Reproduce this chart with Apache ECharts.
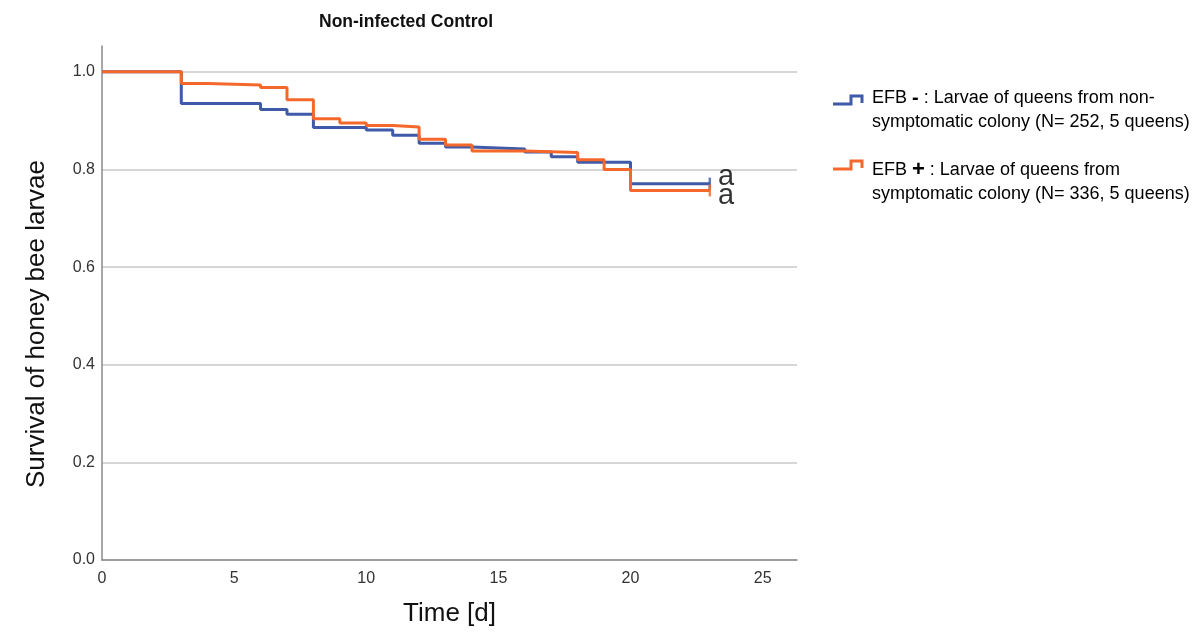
<!DOCTYPE html>
<html>
<head>
<meta charset="utf-8">
<script src="https://cdn.jsdelivr.net/npm/echarts@6/dist/echarts.min.js"></script>
<style>
  html, body { margin: 0; padding: 0; background: #fff; }
  #chart { width: 1200px; height: 633px; }
</style>
</head>
<body>
<div id="chart"></div>
<script>
// Kaplan-Meier steps (time in days, survival fraction)
const blueTimes = [0, 3, 6, 7, 8, 10, 11, 12, 13, 14, 16, 17, 18, 20, 23];
const blueSurv = [1.0, 0.935, 0.923, 0.913, 0.886, 0.881, 0.870, 0.854, 0.846, 0.842, 0.836, 0.826, 0.815, 0.771, 0.771];
const orangeTimes = [0, 3, 4, 6, 7, 8, 9, 10, 11, 12, 13, 14, 16, 18, 19, 20, 23];
const orangeSurv = [1.0, 0.976, 0.973, 0.968, 0.943, 0.904, 0.895, 0.890, 0.887, 0.862, 0.850, 0.838, 0.835, 0.820, 0.800, 0.757, 0.757];
const groupLetters = ['a', 'a'];
const seriesNames = ['EFB -', 'EFB +'];

const BLUE = '#3f5aa8';
const ORANGE = '#f4692b';
const FONT = "'Liberation Sans', Arial, sans-serif";

function pairs(ts, vs) {
  return ts.map(function (t, i) { return [t, vs[i]]; });
}
function lastPoint(ts, vs) {
  return [ts[ts.length - 1], vs[vs.length - 1]];
}

const chart = echarts.init(document.getElementById('chart'));

chart.setOption({
  backgroundColor: '#fff',
  animation: false,
  title: {
    text: 'Non-infected Control',
    left: 314,
    top: 8,
    textStyle: {fontFamily: FONT, fontSize: 17.5, fontWeight: 'bold', color: '#111'},
  },
  grid: {left: 102, right: 403, top: 46, bottom: 73},
  xAxis: {
    type: 'value',
    min: 0,
    max: 26.3,
    interval: 5,
    name: 'Time [d]',
    nameLocation: 'middle',
    nameGap: 41,
    nameTextStyle: {fontFamily: FONT, fontSize: 26, color: '#111'},
    axisLine: {show: true, lineStyle: {color: '#8a8a8a', width: 1.5}},
    axisTick: {show: false},
    splitLine: {show: false},
    axisLabel: {fontFamily: FONT, fontSize: 16, color: '#333', margin: 11, showMaxLabel: false},
  },
  yAxis: {
    type: 'value',
    min: 0,
    max: 1.053,
    interval: 0.2,
    name: 'Survival of honey bee larvae',
    nameLocation: 'middle',
    nameGap: 52,
    // extra right padding pushes the rotated title down like in the original
    nameTextStyle: {fontFamily: FONT, fontSize: 26, color: '#111', padding: [0, 42, 0, 0]},
    axisLine: {show: true, lineStyle: {color: '#8a8a8a', width: 1.5}},
    axisTick: {show: false},
    splitLine: {showMaxLine: false, lineStyle: {color: '#c8c8c8', width: 1.5}},
    axisLabel: {
      fontFamily: FONT, fontSize: 16, color: '#333', margin: 7, showMaxLabel: false,
      formatter: function (v) { return v.toFixed(1); },
    },
  },
  series: [
    {
      name: seriesNames[0],
      type: 'line',
      step: 'end',
      symbol: 'none',
      data: pairs(blueTimes, blueSurv),
      lineStyle: {color: BLUE, width: 3},
      z: 3,
    },
    {
      name: seriesNames[1],
      type: 'line',
      step: 'end',
      symbol: 'none',
      data: pairs(orangeTimes, orangeSurv),
      lineStyle: {color: ORANGE, width: 3},
      z: 4,
    },
    // censor ticks and group letters at the end of each curve
    {
      type: 'scatter',
      symbol: 'rect',
      symbolSize: [2.5, 12],
      itemStyle: {color: BLUE},
      data: [lastPoint(blueTimes, blueSurv)],
      label: {
        show: true, position: 'right', distance: 7, offset: [0, -7],
        formatter: groupLetters[0],
        fontFamily: FONT, fontSize: 29, color: '#000',
      },
      z: 5,
    },
    {
      type: 'scatter',
      symbol: 'rect',
      symbolSize: [2.5, 12],
      itemStyle: {color: ORANGE},
      data: [lastPoint(orangeTimes, orangeSurv)],
      label: {
        show: true, position: 'right', distance: 7, offset: [0, 6],
        formatter: groupLetters[1],
        fontFamily: FONT, fontSize: 29, color: '#000',
      },
      z: 6,
    },
  ],
  graphic: [
    {
      type: 'polyline',
      shape: {points: [[833, 104], [851, 104], [851, 96], [862, 96], [862, 103]]},
      style: {stroke: BLUE, lineWidth: 3, fill: null},
    },
    {
      type: 'text',
      left: 872,
      top: 88,
      style: {
        text: '{t|EFB }{s|-}{t| : Larvae of queens from non-}\n{t|symptomatic colony (N= 252, 5 queens)}',
        rich: {
          t: {fontFamily: FONT, fontSize: 18, color: '#222', lineHeight: 24},
          s: {fontFamily: FONT, fontSize: 20, fontWeight: 'bold', color: '#222', lineHeight: 24},
        },
      },
    },
    {
      type: 'polyline',
      shape: {points: [[833, 169], [851, 169], [851, 161], [862, 161], [862, 168]]},
      style: {stroke: ORANGE, lineWidth: 3, fill: null},
    },
    {
      type: 'text',
      left: 872,
      top: 159,
      style: {
        text: '{t|EFB }{s|+}{t| : Larvae of queens from}\n{t|symptomatic colony (N= 336, 5 queens)}',
        rich: {
          t: {fontFamily: FONT, fontSize: 18, color: '#222', lineHeight: 24},
          s: {fontFamily: FONT, fontSize: 22, fontWeight: 'bold', color: '#222', lineHeight: 24},
        },
      },
    },
  ],
});
</script>
</body>
</html>
